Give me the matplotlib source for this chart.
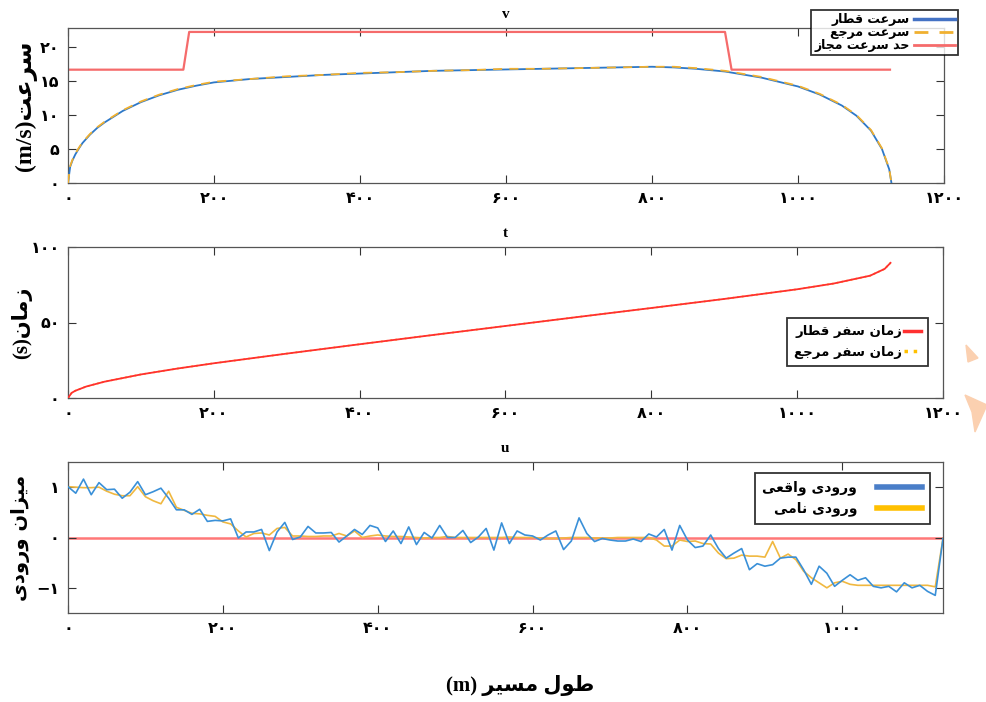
import matplotlib
matplotlib.use('Agg')
import matplotlib.pyplot as plt
from matplotlib.ticker import FuncFormatter
from matplotlib.patches import Polygon
import numpy as np

# ---------------- data ----------------
dist_v = [0, 3, 6, 10, 15, 20, 30, 40, 50, 75, 100, 125, 150, 175, 200, 250, 300, 350, 400,
          450, 500, 550, 600, 650, 700, 750, 800, 830, 860, 900, 950, 1000, 1030, 1060, 1080,
          1100, 1115, 1125, 1128]
speed_train = [0, 2.4, 3.3, 4.2, 5.1, 5.9, 7.1, 8.1, 8.9, 10.6, 11.9, 12.9, 13.7, 14.3, 14.8,
               15.3, 15.6, 15.9, 16.1, 16.3, 16.5, 16.6, 16.7, 16.8, 16.9, 17.0, 17.1, 17.0,
               16.8, 16.4, 15.5, 14.2, 13.0, 11.4, 9.9, 7.7, 5.0, 2.0, 0]
speed_ref = [0, 2.5, 3.4, 4.3, 5.2, 6.0, 7.2, 8.2, 9.0, 10.7, 12.0, 13.0, 13.8, 14.4, 14.9,
             15.3, 15.7, 15.9, 16.2, 16.3, 16.5, 16.6, 16.8, 16.8, 16.9, 17.0, 17.1, 17.1,
             16.9, 16.5, 15.6, 14.3, 13.1, 11.5, 10.0, 7.8, 5.1, 2.1, 0]
limit_x = [0, 158, 166, 900, 909, 1126]
limit_v = [16.67, 16.67, 22.22, 22.22, 16.67, 16.67]

dist_t = [0, 5, 10, 25, 50, 100, 150, 200, 300, 400, 500, 600, 700, 800, 900, 1000, 1050,
          1100, 1120, 1128]
time_train = [0, 3.4, 4.8, 7.6, 10.8, 15.6, 19.5, 23.0, 29.4, 35.6, 41.7, 47.7, 53.7, 59.6,
              65.6, 72.0, 75.8, 81.0, 85.5, 89.5]
time_ref = time_train

dist_u = np.arange(0, 1131, 10)
u_actual = [1.01, 0.88, 1.16, 0.85, 1.09, 0.95, 0.96, 0.78, 0.90, 1.11,
            0.85, 0.91, 0.98, 0.78, 0.55, 0.55, 0.46, 0.56, 0.32, 0.34,
            0.33, 0.37, -0.01, 0.11, 0.11, 0.16, -0.26, 0.11, 0.30, -0.04,
            0.01, 0.22, 0.09, 0.09, 0.10, -0.09, 0.03, 0.16, 0.06, 0.24,
            0.19, -0.08, 0.13, -0.12, 0.21, -0.14, 0.10, -0.01, 0.24, 0.00,
            0.00, 0.14, -0.10, 0.01, 0.18, -0.25, 0.29, -0.12, 0.13, 0.05,
            0.03, -0.05, 0.05, 0.13, -0.24, -0.07, 0.39, 0.08, -0.08, -0.02,
            -0.05, -0.07, -0.07, -0.03, -0.08, 0.07, 0.01, 0.16, -0.25, 0.24,
            -0.05, -0.20, -0.17, 0.05, -0.22, -0.41, -0.31, -0.22, -0.64, -0.52,
            -0.57, -0.54, -0.41, -0.39, -0.39, -0.64, -0.93, -0.57, -0.71, -0.97,
            -0.85, -0.74, -0.85, -0.80, -0.97, -1.00, -0.97, -1.08, -0.90, -1.00,
            -0.95, -1.07, -1.15, -0.02]
u_nominal = [1.01, 1.00, 0.99, 0.99, 1.00, 0.92, 0.86, 0.83, 0.83, 1.01,
             0.81, 0.73, 0.67, 0.92, 0.60, 0.54, 0.48, 0.47, 0.44, 0.42,
             0.31, 0.27, 0.13, 0.01, 0.08, 0.09, 0.05, 0.18, 0.20, 0.03,
             0.03, 0.02, 0.02, 0.03, 0.03, 0.08, 0.03, 0.13, 0.00, 0.03,
             0.05, 0.03, 0.02, 0.02, 0.01, 0.00, -0.01, 0.00, 0.00, 0.02,
             0.00, 0.00, 0.00, 0.00, 0.00, 0.00, 0.00, 0.01, 0.00, 0.00,
             0.00, -0.01, -0.02, -0.02, -0.01, 0.00, 0.00, 0.00, -0.01, -0.01,
             -0.01, 0.00, 0.00, 0.00, 0.00, 0.00, -0.05, -0.17, -0.17, -0.05,
             -0.08, -0.07, -0.12, -0.13, -0.31, -0.42, -0.41, -0.35, -0.37, -0.37,
             -0.39, -0.08, -0.41, -0.33, -0.44, -0.67, -0.80, -0.90, -1.00, -0.90,
             -0.87, -0.93, -0.95, -0.95, -0.95, -0.95, -0.95, -0.95, -0.95, -0.95,
             -0.95, -0.95, -0.98, -0.02]
u_zero_x = [0, 1130]
u_zero = [0, 0]

# ---------------- text helpers ----------------
FORMS = {
    'ا': ('\uFE8D', '\uFE8E', None, None),
    'ب': ('\uFE8F', '\uFE90', '\uFE91', '\uFE92'),
    'ت': ('\uFE95', '\uFE96', '\uFE97', '\uFE98'),
    'ج': ('\uFE9D', '\uFE9E', '\uFE9F', '\uFEA0'),
    'ح': ('\uFEA1', '\uFEA2', '\uFEA3', '\uFEA4'),
    'د': ('\uFEA9', '\uFEAA', None, None),
    'ر': ('\uFEAD', '\uFEAE', None, None),
    'ز': ('\uFEAF', '\uFEB0', None, None),
    'س': ('\uFEB1', '\uFEB2', '\uFEB3', '\uFEB4'),
    'ط': ('\uFEC1', '\uFEC2', '\uFEC3', '\uFEC4'),
    'ع': ('\uFEC9', '\uFECA', '\uFECB', '\uFECC'),
    'ف': ('\uFED1', '\uFED2', '\uFED3', '\uFED4'),
    'ق': ('\uFED5', '\uFED6', '\uFED7', '\uFED8'),
    'ل': ('\uFEDD', '\uFEDE', '\uFEDF', '\uFEE0'),
    'م': ('\uFEE1', '\uFEE2', '\uFEE3', '\uFEE4'),
    'ن': ('\uFEE5', '\uFEE6', '\uFEE7', '\uFEE8'),
    'و': ('\uFEED', '\uFEEE', None, None),
    'ی': ('\uFEEF', '\uFEF0', '\uFEF3', '\uFEF4'),
}


def fa(text):
    """Contextual shaping + visual (right-to-left) ordering for Persian text."""
    out = []
    n = len(text)
    for i, c in enumerate(text):
        if c not in FORMS:
            out.append(c)
            continue
        prev = text[i - 1] if i > 0 else None
        nxt = text[i + 1] if i + 1 < n else None
        jp = prev in FORMS and FORMS[prev][2] is not None
        jn = nxt in FORMS and FORMS[c][2] is not None
        iso, fin, ini, med = FORMS[c]
        if jp and jn:
            out.append(med)
        elif jp:
            out.append(fin)
        elif jn:
            out.append(ini)
        else:
            out.append(iso)
    return ''.join(reversed(out))


PDIG = str.maketrans('0123456789-', '۰۱۲۳۴۵۶۷۸۹−')


def pfmt(v, pos):
    return ('%d' % round(v)).translate(PDIG)


FAM = ['DejaVu Sans']
SER = ['Liberation Serif', 'DejaVu Sans']

# ---------------- figure ----------------
fig = plt.figure(figsize=(9.87, 7.02), dpi=100)
W, H = 987.0, 702.0


def add_ax(l, t, r, b):
    return fig.add_axes([l / W, 1 - b / H, (r - l) / W, (b - t) / H])


ax1 = add_ax(68, 28, 944, 183)
ax2 = add_ax(68, 247, 943, 398)
ax3 = add_ax(68, 462, 943, 613)

# speed
l_lim, = ax1.plot(limit_x, limit_v, color='#f56b6b', lw=1.6, zorder=2)
l_tr, = ax1.plot(dist_v, speed_train, color='#2d78c8', lw=1.3, zorder=3)
l_rf, = ax1.plot(dist_v, speed_ref, color='#f0b030', lw=1.3, ls=(0, (5, 4)), zorder=4)
ax1.set_xlim(0, 1200)
ax1.set_ylim(0, 22.8)
ax1.set_xticks([0, 200, 400, 600, 800, 1000, 1200])
ax1.set_yticks([0, 5, 10, 15, 20])

# time
t_rf, = ax2.plot(dist_t, time_ref, color='#ffc000', lw=1.3, ls=':', zorder=2)
t_tr, = ax2.plot(dist_t, time_train, color='#ff3030', lw=1.3, zorder=3)
ax2.set_xlim(0, 1200)
ax2.set_ylim(0, 100)
ax2.set_xticks([0, 200, 400, 600, 800, 1000, 1200])
ax2.set_yticks([0, 50, 100])

# input
ax3.plot(u_zero_x, u_zero, color='#ff6060', lw=1.8, alpha=0.85, zorder=1)
u_a, = ax3.plot(dist_u, u_actual, color='#3a90d8', lw=1.2, zorder=3)
u_n, = ax3.plot(dist_u, u_nominal, color='#f0b840', lw=1.2, zorder=2)
ax3.set_xlim(0, 1130)
ax3.set_ylim(-1.5, 1.5)
ax3.set_xticks([0, 200, 400, 600, 800, 1000])
ax3.set_yticks([-1, 0, 1])

for ax in (ax1, ax2, ax3):
    ax.tick_params(direction='in', length=6, width=0.8, top=True, right=True,
                   colors='#333333', labelcolor='black', labelsize=11.5, pad=6)
    ax.xaxis.set_major_formatter(FuncFormatter(pfmt))
    ax.yaxis.set_major_formatter(FuncFormatter(pfmt))
    for lab in ax.get_xticklabels() + ax.get_yticklabels():
        lab.set_fontweight('bold')
        lab.set_family(FAM)
    for s in ax.spines.values():
        s.set_color('#555555')
        s.set_linewidth(0.9)

for ax, ttl in ((ax1, 'v'), (ax2, 't'), (ax3, 'u')):
    ax.set_title(ttl, family=SER, fontweight='bold', fontsize=11, pad=7)

ax1.set_ylabel('(m/s)' + fa('سرعت'), family=SER, fontweight='bold', fontsize=17)
ax1.yaxis.set_label_coords((26 - 68) / 876, 0.5)
ax2.set_ylabel('(s)' + fa('زمان'), family=SER, fontweight='bold', fontsize=15)
ax2.yaxis.set_label_coords((22 - 68) / 875, 0.5)
ax3.set_ylabel(fa('میزان ورودی'), family=FAM, fontweight='bold', fontsize=14)
ax3.yaxis.set_label_coords((21 - 68) / 875, 0.5)
for ax in (ax1, ax2, ax3):
    ax.yaxis.label.set_verticalalignment('center')
fig.text(520 / W, 1 - 685 / H, '(m) ' + fa('طول مسیر'), family=SER, fontweight='bold',
         fontsize=15, ha='center', va='center')

leg_kw = dict(markerfirst=False, frameon=True, fancybox=False, borderaxespad=0,
              bbox_transform=fig.transFigure, loc='upper right')

lg1 = ax1.legend([l_tr, l_rf, l_lim], [fa('سرعت قطار'), fa('سرعت مرجع'), fa('حد سرعت مجاز')],
                 bbox_to_anchor=(958 / W, 1 - 10 / H), labelspacing=0.0, handlelength=3.3,
                 handletextpad=0.3, borderpad=0.25,
                 prop={'family': FAM, 'weight': 'bold', 'size': 9.0}, **leg_kw)
lg2 = ax2.legend([t_tr, t_rf], [fa('زمان سفر قطار'), fa('زمان سفر مرجع')],
                 bbox_to_anchor=(928 / W, 1 - 318 / H), labelspacing=0.55, handlelength=1.3,
                 handletextpad=0.1, borderpad=0.55,
                 prop={'family': FAM, 'weight': 'bold', 'size': 9.5}, **leg_kw)
lg3 = ax3.legend([u_a, u_n], [fa('ورودی واقعی'), fa('ورودی نامی')],
                 bbox_to_anchor=(930 / W, 1 - 473 / H), labelspacing=0.45, handlelength=3.3,
                 handletextpad=1.4, borderpad=0.55,
                 prop={'family': FAM, 'weight': 'bold', 'size': 10}, **leg_kw)
for lg in (lg1, lg2, lg3):
    fr = lg.get_frame()
    fr.set_edgecolor('black')
    fr.set_linewidth(1.3)
for h in lg3.get_lines():
    h.set_linewidth(4)
lg3.get_lines()[0].set_color('#4a7ec8')
lg3.get_lines()[1].set_color('#ffc000')
lg2.get_lines()[0].set_linewidth(2.5)
lg2.get_lines()[1].set_linewidth(2.5)
lg1.get_lines()[0].set_color('#4472c4')
lg1.get_lines()[0].set_linewidth(2.5)
lg1.get_lines()[1].set_linewidth(2.0)
lg1.get_lines()[2].set_linewidth(2.0)

# decorative marks at the right margin
fig.patches.append(Polygon([[966 / W, 1 - 345 / H], [978 / W, 1 - 358 / H], [968 / W, 1 - 362 / H]],
                           closed=True, transform=fig.transFigure, color='#fbd0b0', zorder=0))
fig.patches.append(Polygon([[965 / W, 1 - 395 / H], [987 / W, 1 - 405 / H], [975 / W, 1 - 432 / H],
                            [972 / W, 1 - 412 / H]],
                           closed=True, transform=fig.transFigure, color='#fbd0b0', zorder=0))

fig.savefig('out.png', dpi=100)
